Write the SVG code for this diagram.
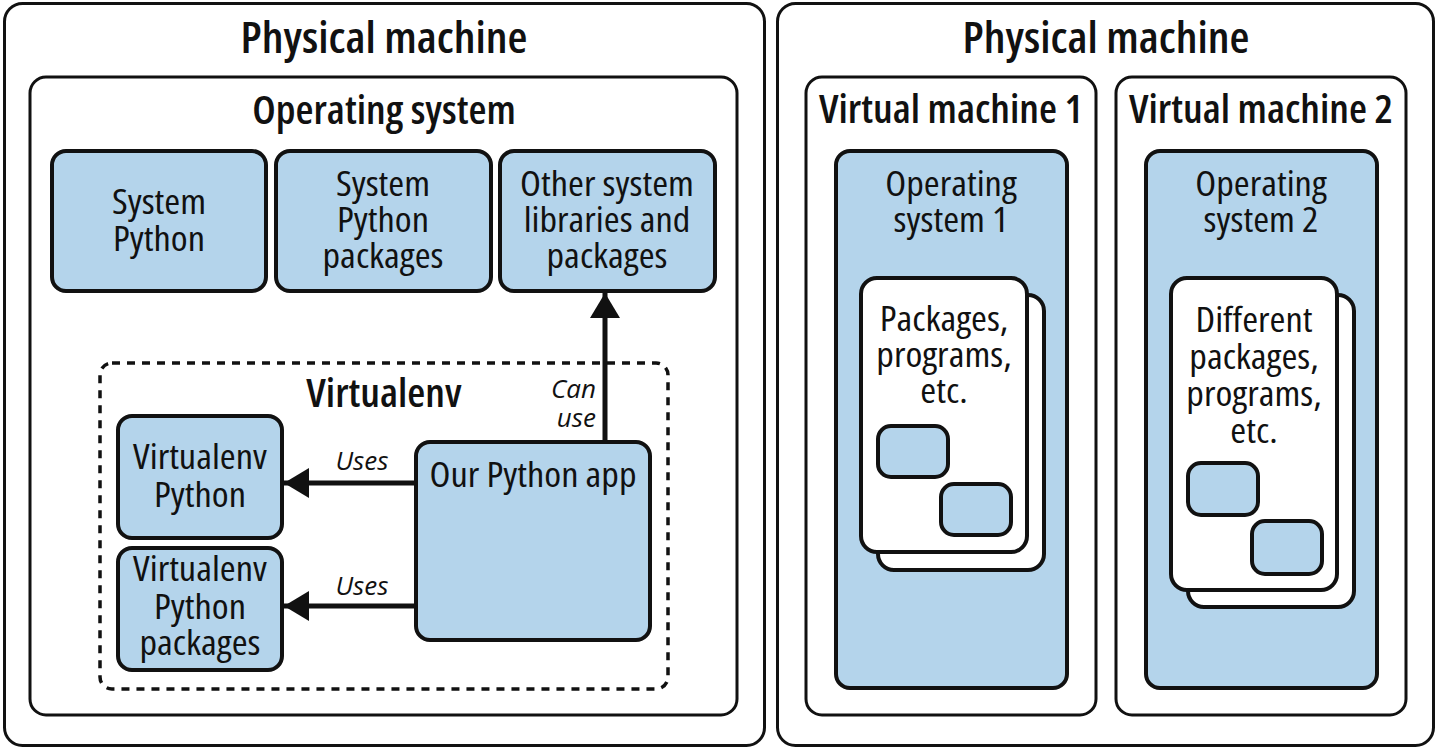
<svg xmlns="http://www.w3.org/2000/svg" width="1438" height="751" viewBox="0 0 1438 751">
<style>
text{font-family:"Open Sans","Liberation Sans",sans-serif;fill:#111;text-anchor:middle;transform-box:fill-box;transform-origin:center}
.t1{font-size:44px;font-weight:600;font-stretch:75%;transform:scaleX(1.04)}
.t2{font-size:39px;font-weight:600;font-stretch:75%;transform:scaleX(1.06)}
.t3{font-size:34px;font-stretch:75%;transform:scaleX(1.13)}
.lbl{font-size:26px;font-style:italic;font-stretch:88%}
.frame{fill:#fff;stroke:#111;stroke-width:3}
.blue{fill:#b4d4eb;stroke:#111;stroke-width:4}
.card{fill:#fff;stroke:#111;stroke-width:4}
.dash{fill:none;stroke:#111;stroke-width:3.5;stroke-dasharray:8 7}
.con{stroke:#111;stroke-width:5;fill:none}
</style>
<defs>
<marker id="ah" viewBox="0 0 10 12" refX="10" refY="6" markerWidth="5" markerHeight="6" orient="auto" markerUnits="strokeWidth">
<path d="M0,0 L10,6 L0,12 z" fill="#111"/>
</marker>
</defs>

<g id="pm1">
<rect class="frame" x="4.5" y="3.5" width="760" height="742" rx="18"/>
<text class="t1" x="384" y="53">Physical machine</text>
</g>
<g id="os">
<rect class="frame" x="30" y="77" width="707" height="638" rx="16"/>
<text class="t2" x="384" y="124">Operating system</text>
</g>
<g id="sys-python">
<rect class="blue" x="52" y="151" width="214" height="140" rx="14"/>
<text class="t3" x="159" y="214">System</text>
<text class="t3" x="159" y="251">Python</text>
</g>
<g id="sys-pkgs">
<rect class="blue" x="276" y="151" width="215" height="140" rx="14"/>
<text class="t3" x="383" y="196">System</text>
<text class="t3" x="383" y="232">Python</text>
<text class="t3" x="383" y="268">packages</text>
</g>
<g id="other-libs">
<rect class="blue" x="500" y="151" width="215" height="140" rx="14"/>
<text class="t3" x="607" y="196">Other system</text>
<text class="t3" x="607" y="232">libraries and</text>
<text class="t3" x="607" y="268">packages</text>
</g>
<g id="virtualenv">
<rect class="dash" x="100" y="363" width="568" height="326" rx="12"/>
<text class="t2" x="384" y="407">Virtualenv</text>
</g>
<g id="venv-python">
<rect class="blue" x="118" y="416" width="164" height="122" rx="14"/>
<text class="t3" x="200" y="469">Virtualenv</text>
<text class="t3" x="200" y="507">Python</text>
</g>
<g id="venv-pkgs">
<rect class="blue" x="118" y="548" width="164" height="122" rx="14"/>
<text class="t3" x="200" y="581">Virtualenv</text>
<text class="t3" x="200" y="619">Python</text>
<text class="t3" x="200" y="655">packages</text>
</g>
<g id="app">
<rect class="blue" x="416" y="442" width="234" height="198" rx="14"/>
<text class="t3" x="533" y="487">Our Python app</text>
</g>

<g id="connectors">
<line class="con" x1="416" y1="483" x2="284" y2="483" marker-end="url(#ah)"/>
<line class="con" x1="416" y1="606" x2="284" y2="606" marker-end="url(#ah)"/>
<line class="con" x1="605" y1="442" x2="605" y2="293" marker-end="url(#ah)"/>
<text class="lbl" x="362" y="470">Uses</text>
<text class="lbl" x="362" y="595">Uses</text>
<text class="lbl" x="596" y="398" style="text-anchor:end">Can</text>
<text class="lbl" x="596" y="427" style="text-anchor:end">use</text>
</g>

<g id="pm2">
<rect class="frame" x="777.5" y="3.5" width="656" height="742" rx="18"/>
<text class="t1" x="1106" y="53">Physical machine</text>
</g>
<g id="vm1">
<rect class="frame" x="806" y="77" width="290" height="638" rx="16"/>
<text class="t2" x="951" y="123">Virtual machine 1</text>
</g>
<g id="os1">
<rect class="blue" x="836" y="151" width="231" height="537" rx="14"/>
<text class="t3" x="951" y="196">Operating</text>
<text class="t3" x="951" y="232">system 1</text>
</g>
<g id="card1">
<rect class="card" x="878" y="295" width="166" height="275" rx="16"/>
<rect class="card" x="861" y="278" width="166" height="274" rx="16"/>
<text class="t3" x="944" y="331">Packages,</text>
<text class="t3" x="944" y="367">programs,</text>
<text class="t3" x="944" y="403">etc.</text>
<rect class="blue" x="878" y="426" width="70" height="51" rx="13"/>
<rect class="blue" x="941" y="484" width="70" height="51" rx="13"/>
</g>
<g id="vm2">
<rect class="frame" x="1116" y="77" width="290" height="638" rx="16"/>
<text class="t2" x="1261" y="123">Virtual machine 2</text>
</g>
<g id="os2">
<rect class="blue" x="1146" y="151" width="231" height="537" rx="14"/>
<text class="t3" x="1261" y="196">Operating</text>
<text class="t3" x="1261" y="232">system 2</text>
</g>
<g id="card2">
<rect class="card" x="1188" y="295" width="166" height="312" rx="16"/>
<rect class="card" x="1171" y="278" width="166" height="312" rx="16"/>
<text class="t3" x="1254" y="332">Different</text>
<text class="t3" x="1254" y="369">packages,</text>
<text class="t3" x="1254" y="406">programs,</text>
<text class="t3" x="1254" y="443">etc.</text>
<rect class="blue" x="1188" y="463" width="70" height="52" rx="13"/>
<rect class="blue" x="1252" y="521" width="70" height="53" rx="13"/>
</g>
</svg>
